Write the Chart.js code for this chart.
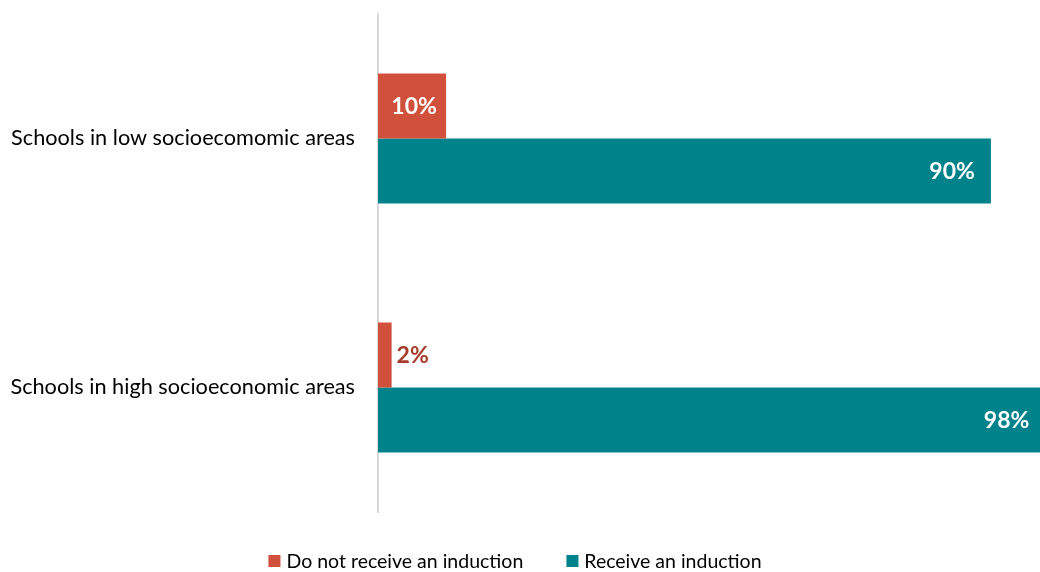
<!DOCTYPE html>
<html>
<head>
<meta charset="utf-8">
<script src="https://cdn.jsdelivr.net/npm/chart.js@4/dist/chart.umd.min.js"></script>
<style>
  html, body { margin: 0; padding: 0; background: #ffffff; overflow: hidden; }
  #wrap { position: relative; width: 1040px; height: 572px; overflow: hidden; }
  #chart { position: absolute; left: 0; top: 0; }
  #legend {
    position: absolute; left: 515px; top: 549px; transform: translateX(-50%);
    display: flex; align-items: center; white-space: nowrap;
    font-family: Lato, "Open Sans", sans-serif; font-size: 19.5px; color: #000;
  }
  .item { display: flex; align-items: center; }
  .item + .item { margin-left: 43px; }
  .swatch { width: 12px; height: 12px; margin-right: 6px; }
</style>
</head>
<body>
<div id="wrap">
  <!-- the value axis runs a little past the right edge of the frame -->
  <canvas id="chart" width="1059" height="572"></canvas>
  <div id="legend"></div>
</div>
<script>
const categories = ['Schools in low socioecomomic areas', 'Schools in high socioeconomic areas'];
const seriesNames = ['Do not receive an induction', 'Receive an induction'];
const noInduction = [10, 2];
const induction = [90, 98];

const RED = '#D0503C';
const TEAL = '#00828A';
const FONT = 'Lato, "Open Sans", sans-serif';

// Percentage labels: inside the bar end for long bars, centred for short ones,
// just past the end (in a darker tone) when the bar is too narrow to hold text.
const barLabels = {
  id: 'barLabels',
  afterDatasetsDraw(chart) {
    const ctx = chart.ctx;
    ctx.save();
    ctx.font = 'bold 23px ' + FONT;
    ctx.textBaseline = 'middle';
    chart.data.datasets.forEach((ds, di) => {
      const meta = chart.getDatasetMeta(di);
      meta.data.forEach((bar, i) => {
        const text = ds.data[i] + '%';
        const tw = ctx.measureText(text).width;
        const w = bar.x - bar.base;
        if (w >= 150) {
          ctx.fillStyle = '#ffffff';
          ctx.textAlign = 'right';
          ctx.fillText(text, bar.x - 16, bar.y + 1);
        } else if (w >= tw + 10) {
          ctx.fillStyle = '#ffffff';
          ctx.textAlign = 'center';
          ctx.fillText(text, (bar.x + bar.base) / 2 + 2, bar.y + 1);
        } else {
          ctx.fillStyle = '#A63A2B';
          ctx.textAlign = 'left';
          ctx.fillText(text, bar.x + 5, bar.y + 1);
        }
      });
    });
    ctx.restore();
  }
};

const chart = new Chart(document.getElementById('chart'), {
  type: 'bar',
  data: {
    labels: categories,
    datasets: [
      { label: seriesNames[0], data: noInduction, backgroundColor: RED },
      { label: seriesNames[1], data: induction, backgroundColor: TEAL }
    ]
  },
  options: {
    indexAxis: 'y',
    responsive: false,
    animation: false,
    layout: { padding: { top: 14, bottom: 60, left: 0, right: 0 } },
    datasets: { bar: { categoryPercentage: 0.522, barPercentage: 1.0 } },
    scales: {
      x: { display: false, min: 0, max: 100 },
      y: {
        afterFit(scale) {
          scale.width = 378;
          scale.paddingTop = 0;
          scale.paddingBottom = 0;
        },
        grid: { display: false, drawTicks: false },
        border: { display: true, color: '#D9D9D9', width: 2 },
        ticks: {
          padding: 23,
          color: '#000000',
          font: { family: FONT, size: 21.7 }
        }
      }
    },
    plugins: {
      legend: { display: false },
      tooltip: { enabled: false }
    }
  },
  plugins: [barLabels]
});

// Legend drawn from the chart's own datasets
const legendEl = document.getElementById('legend');
chart.data.datasets.forEach(ds => {
  const item = document.createElement('div');
  item.className = 'item';
  const sw = document.createElement('span');
  sw.className = 'swatch';
  sw.style.background = ds.backgroundColor;
  const tx = document.createElement('span');
  tx.textContent = ds.label;
  item.appendChild(sw);
  item.appendChild(tx);
  legendEl.appendChild(item);
});
</script>
</body>
</html>
